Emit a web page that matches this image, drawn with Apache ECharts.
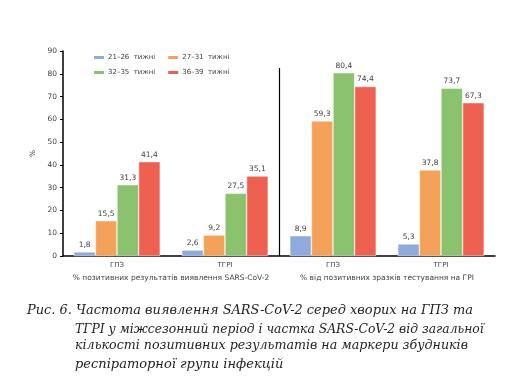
<!DOCTYPE html>
<html><head><meta charset="utf-8">
<script src="https://cdn.jsdelivr.net/npm/echarts@6/dist/echarts.min.js"></script>
<style>html,body{margin:0;padding:0;background:#fff}#c{width:508px;height:382px}</style>
</head><body><div id="c"></div>
<script>
const categories = ['ГПЗ', 'ТГРІ', 'ГПЗ', 'ТГРІ'];
const groupLabels = ['% позитивних результатів виявлення SARS-CoV-2', '% від позитивних зразків тестування на ГРІ'];
const seriesNames = ['21–26  тижні', '27–31  тижні', '32–35  тижні', '36–39  тижні'];
const s1 = [1.8, 2.6, 8.9, 5.3];
const s2 = [15.5, 9.2, 59.3, 37.8];
const s3 = [31.3, 27.5, 80.4, 73.7];
const s4 = [41.4, 35.1, 74.4, 67.3];
const yTicks = [0, 10, 20, 30, 40, 50, 60, 70, 80, 90];
const colors = ['#8FAADC', '#F4A259', '#8AC26D', '#EE6150'];
const captionLines = [
  'Рис. 6. Частота виявлення SARS-CoV-2 серед хворих на ГПЗ та',
  'ТГРІ у міжсезонний період і частка SARS-CoV-2 від загальної',
  'кількості позитивних результатів на маркери збудників',
  'респіраторної групи інфекцій'
];

const chart = echarts.init(document.getElementById('c'), null, {renderer: 'canvas'});
const font = 'DejaVu Sans';
const mkBar = (name, data, i) => ({
  name, type: 'bar', data, xAxisIndex: 0, yAxisIndex: 0,
  barGap: '0%', barCategoryGap: '20%',
  itemStyle: {color: colors[i], borderColor: '#fff', borderWidth: 0.5},
  label: {show: true, position: 'top', distance: 3, fontFamily: font, fontSize: 7.5, color: '#404040',
    formatter: p => String(p.value).replace('.', ',')}
});
const legendCommon = {
  itemWidth: 12, itemHeight: 5, itemGap: 11, icon: 'rect', padding: 0,
  textStyle: {fontFamily: font, fontSize: 7, color: '#404040', padding: [0, 0, 0, -2]},
  selectedMode: false
};
const capStyle = size => ({fontFamily: 'DejaVu Serif', fontStyle: 'italic', fontWeight: 'normal', fontSize: size, lineHeight: 16, color: '#222'});
const capLeft = [27, 75, 75, 75];
const capTop = [303, 322, 338, 357];
const capSize = [12.95, 12.35, 12.65, 13.0];
chart.setOption({
  animation: false,
  color: colors,
  title: captionLines.map((t, i) => ({text: t, left: capLeft[i], top: capTop[i], padding: 0, textStyle: capStyle(capSize[i])})),
  legend: [
    Object.assign({data: [seriesNames[0], seriesNames[1]], left: 92, top: 54}, legendCommon),
    Object.assign({data: [seriesNames[2], seriesNames[3]], left: 92, top: 69}, legendCommon)
  ],
  grid: {left: 63, right: 13, top: 51, bottom: 126, containLabel: false},
  xAxis: [
    {type: 'category', data: categories, position: 'bottom',
      axisLine: {lineStyle: {color: '#000', width: 1.5}}, axisTick: {show: false},
      axisLabel: {fontFamily: font, fontSize: 7, color: '#404040', margin: 6, interval: 0}},
    {type: 'category', data: groupLabels, position: 'bottom', offset: 0,
      axisLine: {show: false}, axisTick: {show: false},
      axisLabel: {fontFamily: font, fontSize: 7.5, color: '#404040', margin: 18, interval: 0, hideOverlap: false}},
    {type: 'value', min: 0, max: 4, show: false}
  ],
  yAxis: {type: 'value', min: 0, max: 90, interval: 10, name: '%', nameLocation: 'middle', nameGap: 21,
    nameTextStyle: {fontFamily: font, fontSize: 7.5, color: '#404040'},
    axisLine: {show: true, lineStyle: {color: '#000', width: 1.5}},
    axisTick: {show: true, length: 3, lineStyle: {color: '#000'}},
    splitLine: {show: false},
    axisLabel: {fontFamily: font, fontSize: 7.5, color: '#404040', margin: 6,
      formatter: v => yTicks.includes(v) ? String(v) : ''}},
  series: [
    mkBar(seriesNames[0], s1, 0), mkBar(seriesNames[1], s2, 1), mkBar(seriesNames[2], s3, 2), mkBar(seriesNames[3], s4, 3),
    {type: 'line', xAxisIndex: 2, yAxisIndex: 0, data: [], silent: true,
      markLine: {silent: true, symbol: ['none', 'none'], label: {show: false},
        lineStyle: {color: '#000', width: 1.2, type: 'solid'},
        data: [[{coord: [2, 0]}, {coord: [2, 82.5]}]]}}
  ]
});
</script></body></html>
